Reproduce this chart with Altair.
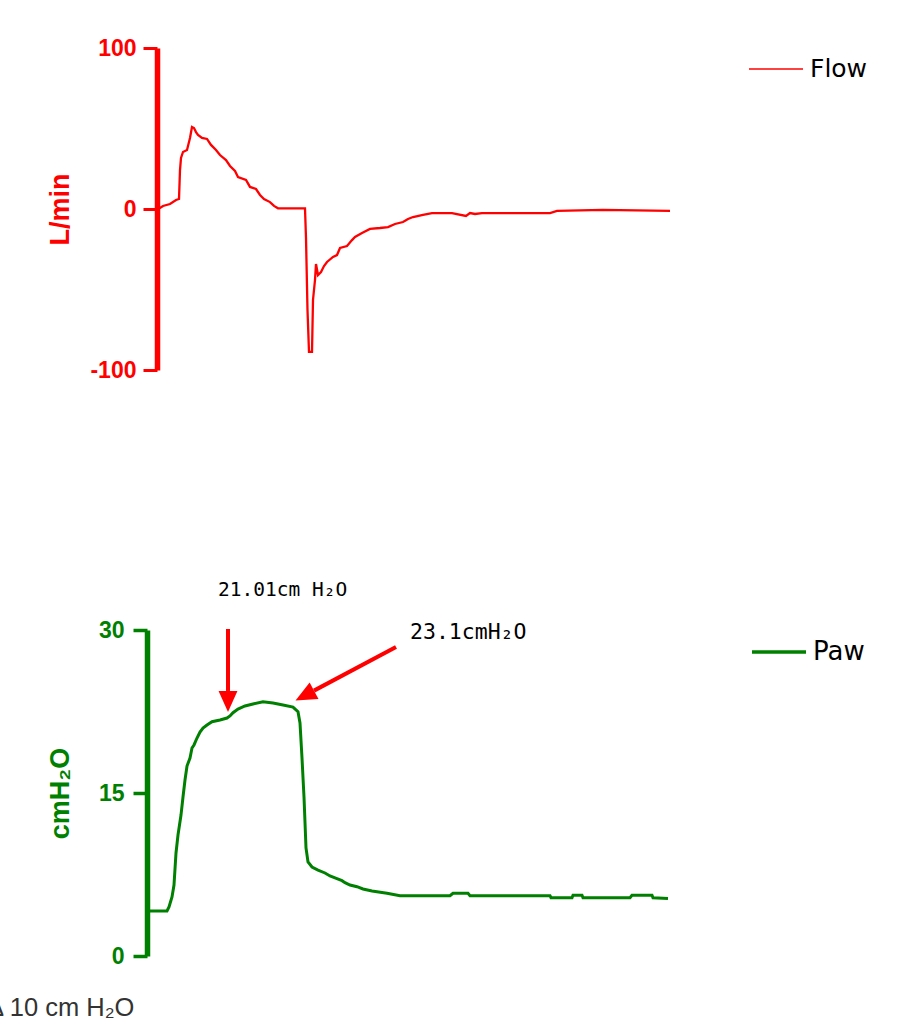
import altair as alt
import pandas as pd

# ---------------- data ----------------
# Flow trace: time (s) and flow (L/min)
flow_t = [0.01, 0.03, 0.06, 0.13, 0.19, 0.22, 0.23, 0.24, 0.26, 0.30, 0.31, 0.33, 0.35,
          0.37, 0.39, 0.41, 0.45, 0.50, 0.54, 0.59, 0.63, 0.69, 0.73, 0.78, 0.81, 0.89,
          0.93, 0.99, 1.03, 1.07, 1.13, 1.17, 1.21, 1.48, 1.49, 1.505, 1.52, 1.55, 1.56,
          1.58, 1.59, 1.61, 1.64, 1.67, 1.70, 1.76, 1.80, 1.83, 1.90, 1.95, 1.98, 2.05,
          2.13, 2.23, 2.31, 2.38, 2.46, 2.51, 2.56, 2.66, 2.75, 2.95, 3.09, 3.13, 3.18,
          3.25, 3.93, 4.00, 4.46, 5.13]
flow_v = [0.3, 0.6, 1.9, 3.1, 5.6, 6.2, 24.2, 31.7, 35.4, 36.6, 39.1, 44.1, 50.9,
          50.3, 47.8, 46.0, 44.1, 43.5, 39.8, 36.6, 33.5, 30.4, 26.7, 23.6, 19.9, 18.0,
          13.7, 12.4, 8.7, 6.2, 4.3, 1.9, 0.4, 0.4, -18.0, -62.7, -88.8, -88.8, -56.5,
          -44.1, -34.2, -41.0, -39.1, -35.4, -32.9, -29.8, -28.6, -24.2, -23.0, -19.3, -17.4, -14.9,
          -12.4, -11.8, -11.2, -9.3, -8.1, -6.2, -5.0, -3.7, -2.5, -2.5, -4.3, -2.5, -3.1,
          -2.5, -2.5, -1.2, -0.6, -1.2]

# Airway pressure trace: time (s) and pressure (cmH2O)
paw_t = [0.02, 0.20, 0.22, 0.25, 0.27, 0.29, 0.31, 0.34, 0.36, 0.38, 0.40, 0.43, 0.45,
         0.47, 0.50, 0.53, 0.56, 0.60, 0.65, 0.73, 0.80, 0.83, 0.86, 0.91, 0.98, 1.06,
         1.16, 1.26, 1.36, 1.46, 1.51, 1.53, 1.55, 1.57, 1.59, 1.61, 1.65, 1.71, 1.78,
         1.83, 1.88, 1.95, 1.98, 2.03, 2.10, 2.16, 2.25, 2.40, 2.53, 3.03, 3.06, 3.21,
         3.23, 4.03, 4.04, 4.25, 4.26, 4.35, 4.36, 4.83, 4.85, 5.05, 5.06, 5.21]
paw_v = [4.14, 4.14, 4.51, 5.43, 6.53, 9.48, 11.13, 12.97, 14.63, 16.20, 17.48, 18.22, 19.14,
         19.42, 20.06, 20.61, 20.98, 21.26, 21.56, 21.72, 21.90, 22.09, 22.39, 22.73, 23.01, 23.19,
         23.40, 23.28, 23.10, 22.91, 22.48, 21.44, 18.22, 14.63, 9.94, 8.65, 8.19, 7.91, 7.64,
         7.36, 7.18, 6.93, 6.75, 6.53, 6.38, 6.17, 5.98, 5.77, 5.55, 5.55, 5.77, 5.77,
         5.55, 5.55, 5.36, 5.36, 5.59, 5.59, 5.36, 5.36, 5.59, 5.59, 5.36, 5.29]

# Annotation arrows (in time / cmH2O units)
arrow_x1 = [0.81, 2.49]
arrow_y1 = [30.09, 28.43]
arrow_x2 = [0.81, 1.67]
arrow_y2 = [24.39, 24.42]
head_x = [0.81, 1.578]
head_y = [23.42, 23.96]
head_angle = [0, 62]

# Annotation labels
note1_x, note1_y, note1_text = [0.71], [33.13], ["21.01cm H\u2082O"]
note2_x, note2_y, note2_text = [2.63], [29.17], ["23.1cmH\u2082O"]
caption_x, caption_y, caption_text = [-1.60], [-5.52], ["\u0394 10 cm H\u2082O"]

series_names = ["Flow", "Paw"]
RED = "#ff0000"
GREEN = "#008000"

# ---------------- tables ----------------
flow_df = pd.DataFrame({"t": flow_t, "v": flow_v, "series": series_names[0]})
paw_df = pd.DataFrame({"t": paw_t, "v": paw_v, "series": series_names[1]})
arrow_df = pd.DataFrame({"x1": arrow_x1, "y1": arrow_y1, "x2": arrow_x2, "y2": arrow_y2})
head_df = pd.DataFrame({"x": head_x, "y": head_y, "ang": head_angle})
note1_df = pd.DataFrame({"x": note1_x, "y": note1_y, "label": note1_text})
note2_df = pd.DataFrame({"x": note2_x, "y": note2_y, "label": note2_text})
caption_df = pd.DataFrame({"x": caption_x, "y": caption_y, "label": caption_text})

# ---------------- scales ----------------
def flow_xs():
    return alt.Scale(domain=[0, 5.13], range=[157, 670], nice=False, zero=False)

def flow_ys():
    return alt.Scale(domain=[-100, 100], range=[370, 48], nice=False, zero=False)

def paw_xs():
    return alt.Scale(domain=[0, 5.23], range=[147, 670], nice=False, zero=False)

def paw_ys():
    return alt.Scale(domain=[0, 30], range=[956, 630], nice=False, zero=False)

# ---------------- flow panel ----------------
flow = alt.Chart(flow_df).mark_line(strokeWidth=2.3).encode(
    x=alt.X("t:Q", scale=flow_xs(), axis=None),
    y=alt.Y("v:Q", scale=flow_ys(), axis=alt.Axis(
        orient="left", offset=-157, values=[-100, 0, 100], grid=False,
        domainColor=RED, domainWidth=5.5, tickColor=RED, tickWidth=3, tickSize=14,
        labelColor=RED, labelFont="Liberation Sans", labelFontWeight="bold", labelFontSize=23,
        labelPadding=7, labelExpr="'' + datum.value",
        title="L/min", titleColor=RED, titleFont="Liberation Sans", titleFontWeight="bold",
        titleFontSize=27, titleAngle=270, titleBaseline="alphabetic", titleX=-89)),
    color=alt.Color("series:N", scale=alt.Scale(domain=[series_names[0]], range=[RED]),
                    legend=alt.Legend(orient="none", legendX=748, legendY=41, title=None,
                                      symbolType="stroke", symbolSize=2916, symbolStrokeWidth=1.7,
                                      labelFont="DejaVu Sans", labelFontSize=25, labelColor="black",
                                      labelOffset=6, padding=0)),
)

# ---------------- pressure panel ----------------
paw_line = alt.Chart(paw_df).mark_line(strokeWidth=3).encode(
    x=alt.X("t:Q", scale=paw_xs(), axis=None),
    y=alt.Y("v:Q", scale=paw_ys(), axis=alt.Axis(
        orient="left", offset=-147, values=[0, 15, 30], grid=False,
        domainColor=GREEN, domainWidth=5.5, tickColor=GREEN, tickWidth=3.5, tickSize=14,
        labelColor=GREEN, labelFont="Liberation Sans", labelFontWeight="bold", labelFontSize=23,
        labelPadding=9, labelExpr="'' + datum.value",
        title="cmH\u2082O", titleColor=GREEN, titleFont="Liberation Sans", titleFontWeight="bold",
        titleFontSize=27, titleAngle=270, titleBaseline="alphabetic", titleX=-79)),
    color=alt.Color("series:N", scale=alt.Scale(domain=[series_names[1]], range=[GREEN]),
                    legend=alt.Legend(orient="none", legendX=750, legendY=623, title=None,
                                      symbolType="stroke", symbolSize=2916, symbolStrokeWidth=3.3,
                                      labelFont="DejaVu Sans", labelFontSize=26, labelColor="black",
                                      labelOffset=5, padding=0)),
)

shafts = alt.Chart(arrow_df).mark_rule(color=RED, strokeWidth=4).encode(
    x=alt.X("x1:Q", scale=paw_xs(), axis=None),
    y=alt.Y("y1:Q", scale=paw_ys(), axis=None),
    x2="x2:Q", y2="y2:Q",
)

heads = alt.Chart(head_df).mark_point(
    shape="M0,1L-0.9,-1L0.9,-1Z", filled=True, size=440, color=RED, opacity=1, strokeWidth=0
).encode(
    x=alt.X("x:Q", scale=paw_xs(), axis=None),
    y=alt.Y("y:Q", scale=paw_ys(), axis=None),
    angle=alt.Angle("ang:Q", scale=None),
)

note1 = alt.Chart(note1_df).mark_text(
    align="left", baseline="alphabetic", font="DejaVu Sans Mono", fontSize=19.5, color="black"
).encode(
    x=alt.X("x:Q", scale=paw_xs(), axis=None),
    y=alt.Y("y:Q", scale=paw_ys(), axis=None),
    text="label:N",
)

note2 = alt.Chart(note2_df).mark_text(
    align="left", baseline="alphabetic", font="DejaVu Sans Mono", fontSize=21.5, color="black"
).encode(
    x=alt.X("x:Q", scale=paw_xs(), axis=None),
    y=alt.Y("y:Q", scale=paw_ys(), axis=None),
    text="label:N",
)

caption = alt.Chart(caption_df).mark_text(
    align="left", baseline="alphabetic", font="Liberation Sans", fontSize=25.5, color="#333333"
).encode(
    x=alt.X("x:Q", scale=paw_xs(), axis=None),
    y=alt.Y("y:Q", scale=paw_ys(), axis=None),
    text="label:N",
)

chart = alt.layer(flow, paw_line, shafts, heads, note1, note2, caption).resolve_scale(
    x="independent", y="independent", color="independent"
).properties(
    width=907, height=1020,
    autosize=alt.AutoSizeParams(type="none"),
    padding=0,
).configure(background="white").configure_view(stroke=None)

chart.save("out.html", embed_options={"renderer": "svg", "actions": False})
